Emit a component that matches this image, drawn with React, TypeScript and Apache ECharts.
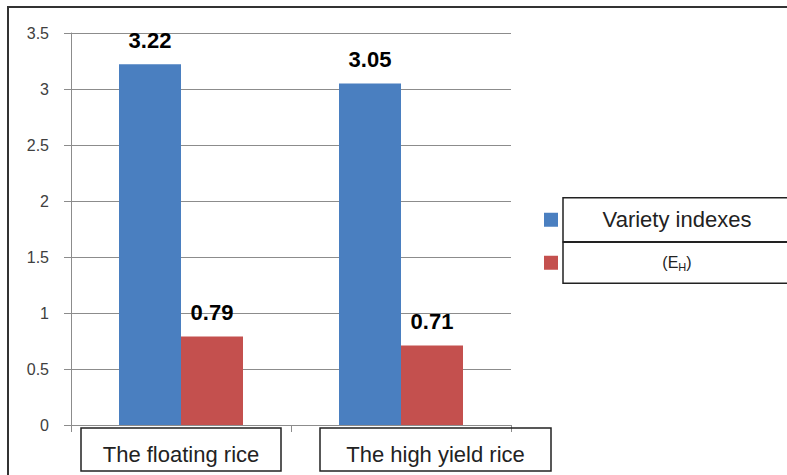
import React, { useEffect, useRef } from "react";
import * as echarts from "echarts";

const categories = ["The floating rice", "The high yield rice"];
const varietyIndexes = [3.22, 3.05];
const ehValues = [0.79, 0.71];
const seriesNames = ["Variety indexes", "(EH)"];
const yTicks = { min: 0, max: 3.5, interval: 0.5 };

const FONT = "Liberation Sans, Arial, sans-serif";

export default function App() {
  const ref = useRef<HTMLDivElement>(null);

  useEffect(() => {
    if (!ref.current) return;
    const chart = echarts.init(ref.current, null, { renderer: "svg" });

    const valueLabel = {
      show: true,
      position: "top",
      distance: 13,
      fontFamily: FONT,
      fontSize: 22,
      fontWeight: "bold",
      color: "#000",
    };

    // Boxed category captions under the axis
    const boxText = {
      height: 33,
      lineHeight: 43,
      padding: [10, 0, 0, 0],
      align: "center",
      borderColor: "#222",
      borderWidth: 1.5,
      fontFamily: FONT,
      fontSize: 22,
      color: "#222",
    };

    chart.setOption({
      animation: false,
      backgroundColor: "#fff",
      grid: { left: 71, top: 33, right: 276, bottom: 50, containLabel: false },
      xAxis: {
        type: "category",
        data: categories,
        axisLine: { show: false },
        axisTick: { show: true, length: 7, lineStyle: { color: "#8c8c8c" } },
        axisLabel: {
          interval: 0,
          margin: 3,
          formatter: (v: string, i: number) => (i === 0 ? `{a|${v}}` : `{sp|}{b|${v}}`),
          rich: {
            a: { ...boxText, width: 200 },
            b: { ...boxText, width: 231 },
            sp: { width: 69, lineHeight: 43 },
          },
        },
      },
      yAxis: {
        type: "value",
        min: yTicks.min,
        max: yTicks.max,
        interval: yTicks.interval,
        axisLine: { show: true, lineStyle: { color: "#8c8c8c" } },
        axisTick: { show: true, length: 7, lineStyle: { color: "#8c8c8c" } },
        splitLine: { show: true, lineStyle: { color: "#8c8c8c", width: 1 } },
        axisLabel: { margin: 22, fontFamily: FONT, fontSize: 16, color: "#404040" },
      },
      legend: {
        orient: "vertical",
        left: 544,
        top: 197,
        padding: 0,
        itemWidth: 14,
        itemHeight: 14,
        itemGap: -1,
        icon: "rect",
        data: seriesNames,
        formatter: (name: string) =>
          name === seriesNames[0] ? `{a|${name}}` : `{b|(E}{s|H}{b|)}`,
        textStyle: {
          width: 228,
          borderColor: "#222",
          borderWidth: 1.5,
          padding: 0,
          rich: {
            a: { align: "center", fontFamily: FONT, fontSize: 22, color: "#222", lineHeight: 44 },
            b: { align: "center", fontFamily: FONT, fontSize: 16, color: "#222", lineHeight: 41 },
            s: { align: "center", fontFamily: FONT, fontSize: 11, color: "#222", padding: [8, 0, 0, 0] },
          },
        },
      },
      series: [
        {
          name: seriesNames[0],
          type: "bar",
          data: varietyIndexes,
          barWidth: 62,
          barGap: "0%",
          itemStyle: { color: "#4a7fc0" },
          label: valueLabel,
        },
        {
          name: seriesNames[1],
          type: "bar",
          data: ehValues,
          barWidth: 62,
          itemStyle: { color: "#c4504e" },
          label: valueLabel,
        },
      ],
      graphic: [
        {
          type: "line",
          shape: { x1: 7, y1: 7, x2: 787, y2: 7 },
          style: { stroke: "#333", lineWidth: 2 },
        },
        {
          type: "line",
          shape: { x1: 8, y1: 7, x2: 8, y2: 475 },
          style: { stroke: "#333", lineWidth: 2 },
        },
      ],
    });

    return () => chart.dispose();
  }, []);

  return (
    <div
      ref={ref}
      style={{ position: "fixed", left: 0, top: 0, width: 787, height: 475 }}
    />
  );
}
